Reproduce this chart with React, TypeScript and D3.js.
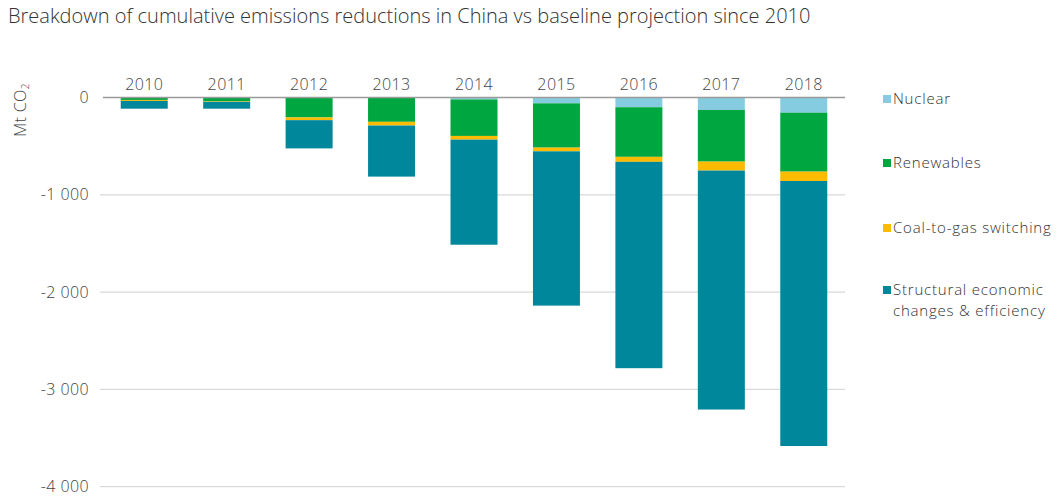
import React from "react";
import * as d3 from "d3";

const years = ["2010", "2011", "2012", "2013", "2014", "2015", "2016", "2017", "2018"];
const nuclear = [0, 0, 0, 0, -20, -60, -100, -128, -156];
const renewables = [-25, -40, -205, -250, -375, -455, -510, -531, -606];
const coalToGas = [-10, -5, -28, -38, -38, -38, -51, -92, -96];
const structural = [-80, -70, -290, -525, -1080, -1586, -2121, -2456, -2724];
const yTicks = [0, -1000, -2000, -3000, -4000];
const tickLabels = ["0", "-1 000", "-2 000", "-3 000", "-4 000"];

const seriesNames = ["Nuclear", "Renewables", "Coal-to-gas switching", "Structural economic changes & efficiency"];
const seriesData = [nuclear, renewables, coalToGas, structural];
const colors = ["#86cce0", "#00a63f", "#fbbb00", "#00879c"];

const W = 1061;
const H = 498;
const font = "'Open Sans', sans-serif";

export default function App() {
  const x = d3.scaleBand<string>().domain(years).range([103, 845]).paddingInner(0.43).paddingOuter(0.215);
  const y = d3.scaleLinear().domain([0, -4000]).range([97.5, 486.7]);

  const table = years.map((yr, i) => {
    const row: Record<string, number | string> = { year: yr };
    seriesNames.forEach((n, k) => (row[n] = -seriesData[k][i]));
    return row;
  });
  const stack = d3.stack<any>().keys(seriesNames)(table);

  const legendY = [99, 163, 228, 290];
  const legendLines = [["Nuclear"], ["Renewables"], ["Coal-to-gas switching"], ["Structural economic", "changes & efficiency"]];
  const lab = { fontFamily: font, fontWeight: 300, fontSize: 16, letterSpacing: 0.4, fill: "#444" } as const;
  const leg = { fontFamily: font, fontWeight: 300, fontSize: 15, letterSpacing: 0.8, fill: "#333" } as const;

  return (
    <svg width={W} height={H} style={{ position: "absolute", left: 0, top: 0, background: "#fff" }}>
      <text x={8} y={23} fontFamily={font} fontWeight={300} fontSize={20} fill="#333">
        Breakdown of cumulative emissions reductions in China vs baseline projection since 2010
      </text>
      {yTicks.map((t, i) => (
        <g key={t}>
          {i > 0 && <line x1={100} x2={845} y1={y(t)} y2={y(t)} stroke="#d9d9d9" strokeWidth={1.2} />}
          <text x={89} y={y(t)} dy="0.35em" textAnchor="end" {...lab}>
            {tickLabels[i]}
          </text>
        </g>
      ))}
      <text transform={`translate(26,110) rotate(-90)`} textAnchor="middle" {...lab}>
        Mt CO<tspan fontSize={10} dy={3}>2</tspan>
      </text>
      {stack.map((s, k) => (
        <g key={s.key} fill={colors[k]}>
          {s.map((d, i) => (
            <rect key={i} x={x(years[i])} width={x.bandwidth()} y={y(-d[0])} height={Math.max(0, y(-d[1]) - y(-d[0]))} />
          ))}
        </g>
      ))}
      <line x1={103} x2={845} y1={y(0)} y2={y(0)} stroke="#9a9a9a" strokeWidth={1.5} />
      {years.map((yr) => (
        <text key={yr} x={(x(yr) ?? 0) + x.bandwidth() / 2} y={90} textAnchor="middle" {...lab}>
          {yr}
        </text>
      ))}
      {seriesNames.map((n, k) => (
        <g key={n}>
          <rect x={883} y={legendY[k] - 4} width={8} height={8} fill={colors[k]} />
          {legendLines[k].map((l, j) => (
            <text key={j} x={893} y={legendY[k] + j * 21} dy="0.35em" {...leg}>
              {l}
            </text>
          ))}
        </g>
      ))}
    </svg>
  );
}
